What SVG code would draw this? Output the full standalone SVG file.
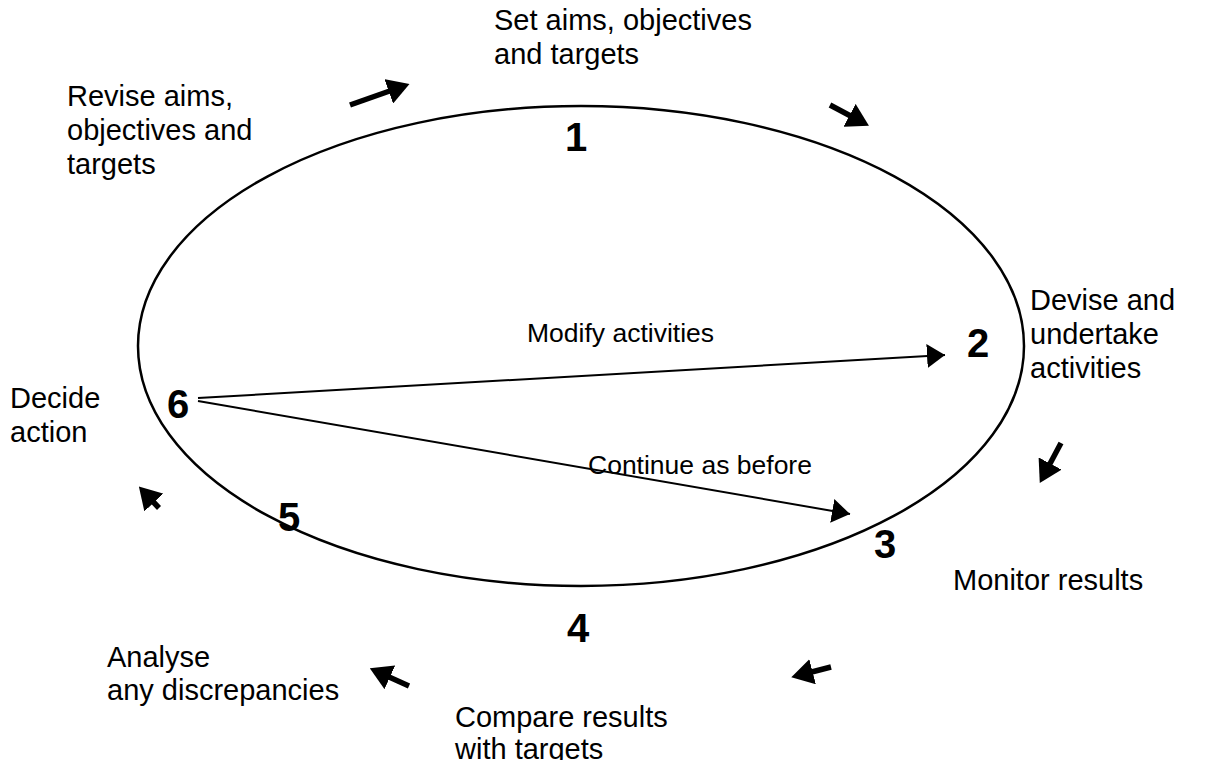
<svg xmlns="http://www.w3.org/2000/svg" width="1210" height="760" viewBox="0 0 1210 760">
  <style>
    .lbl { font-family: "Liberation Sans", Arial, sans-serif; font-size: 29px; fill: #000; }
    .mid { font-family: "Liberation Sans", Arial, sans-serif; font-size: 26.5px; fill: #000; }
    .num { font-family: "Liberation Sans", Arial, sans-serif; font-size: 40px; font-weight: bold; fill: #000; text-anchor: middle; }
    .thin { stroke: #000; stroke-width: 2; fill: none; }
    .bold { stroke: #000; stroke-width: 5.5; fill: none; }
  </style>
  <defs>
    <marker id="thinHead" markerUnits="userSpaceOnUse" viewBox="0 0 18 24" refX="18" refY="12" markerWidth="18" markerHeight="24" orient="auto">
      <path d="M0,0 L18,12 L0,24 z" fill="#000"/>
    </marker>
    <marker id="boldHead" markerUnits="userSpaceOnUse" viewBox="0 0 22 26" refX="13" refY="13" markerWidth="22" markerHeight="26" orient="auto">
      <path d="M0,0 L22,13 L0,26 z" fill="#000"/>
    </marker>
  </defs>
  <rect width="1210" height="760" fill="#fff"/>

  <g id="cycle">
    <ellipse cx="581" cy="346" rx="443" ry="240" fill="none" stroke="#000" stroke-width="2.5"/>
  </g>

  <g id="node1">
    <text class="num" x="576" y="151">1</text>
    <text class="lbl" x="494" y="30">Set aims, objectives</text>
    <text class="lbl" x="494" y="64">and targets</text>
  </g>
  <g id="node2">
    <text class="num" x="978" y="357">2</text>
    <text class="lbl" x="1030" y="310">Devise and</text>
    <text class="lbl" x="1030" y="344">undertake</text>
    <text class="lbl" x="1030" y="378">activities</text>
  </g>
  <g id="node3">
    <text class="num" x="885" y="558">3</text>
    <text class="lbl" x="953" y="590">Monitor results</text>
  </g>
  <g id="node4">
    <text class="num" x="578" y="642">4</text>
    <text class="lbl" x="455" y="727">Compare results</text>
    <text class="lbl" x="455" y="759">with targets</text>
  </g>
  <g id="node5">
    <text class="num" x="289" y="531">5</text>
    <text class="lbl" x="107" y="667">Analyse</text>
    <text class="lbl" x="107" y="700">any discrepancies</text>
  </g>
  <g id="node6">
    <text class="num" x="178" y="418">6</text>
    <text class="lbl" x="10" y="408">Decide</text>
    <text class="lbl" x="10" y="442">action</text>
  </g>
  <g id="node-revise">
    <text class="lbl" x="67" y="106">Revise aims,</text>
    <text class="lbl" x="67" y="140">objectives and</text>
    <text class="lbl" x="67" y="174">targets</text>
  </g>

  <g id="connectors">
    <line class="thin" x1="198" y1="398" x2="945" y2="355" marker-end="url(#thinHead)"/>
    <line class="thin" x1="198" y1="401" x2="850" y2="514" marker-end="url(#thinHead)"/>
    <text class="mid" x="527" y="342">Modify activities</text>
    <text class="mid" x="588" y="474">Continue as before</text>

    <line class="bold" x1="350" y1="105" x2="401" y2="87" marker-end="url(#boldHead)"/>
    <line class="bold" x1="830" y1="105" x2="861" y2="121.5" marker-end="url(#boldHead)"/>
    <line class="bold" x1="1061" y1="443" x2="1044" y2="475" marker-end="url(#boldHead)"/>
    <line class="bold" x1="831" y1="667" x2="800" y2="675" marker-end="url(#boldHead)"/>
    <line class="bold" x1="409" y1="686" x2="378" y2="672" marker-end="url(#boldHead)"/>
    <line class="bold" x1="159" y1="508" x2="145" y2="493" marker-end="url(#boldHead)"/>
  </g>
</svg>
